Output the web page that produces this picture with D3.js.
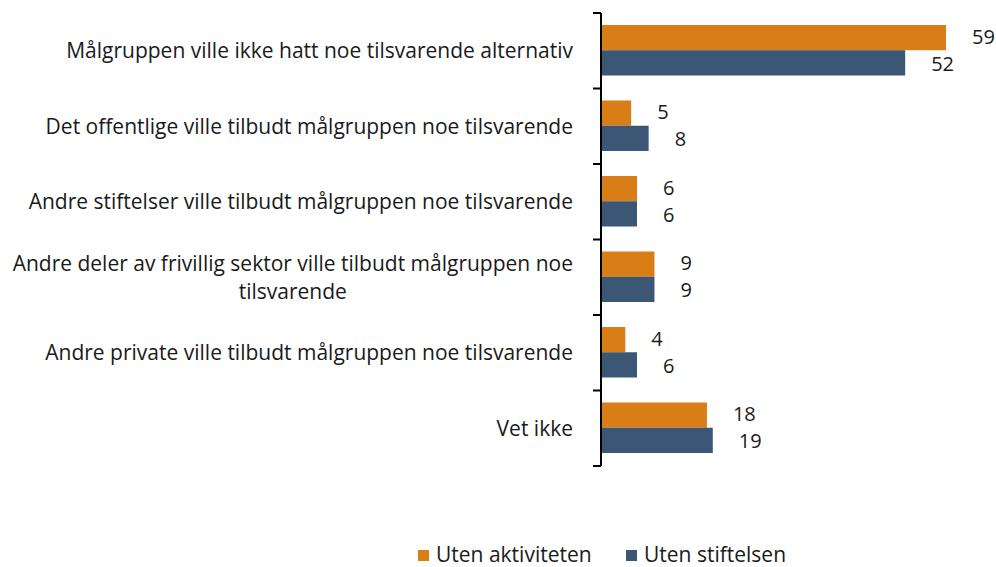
<!DOCTYPE html>
<html>
<head>
<meta charset="utf-8">
<script src="https://cdn.jsdelivr.net/npm/d3@7"></script>
<style>
  body { margin: 0; background: #fff; }
  svg { font-family: 'Open Sans', Lato, sans-serif; }
</style>
</head>
<body>
<svg width="996" height="567"></svg>
<script>
// Data
const categories = [
  'Målgruppen ville ikke hatt noe tilsvarende alternativ',
  'Det offentlige ville tilbudt målgruppen noe tilsvarende',
  'Andre stiftelser ville tilbudt målgruppen noe tilsvarende',
  'Andre deler av frivillig sektor ville tilbudt målgruppen noe tilsvarende',
  'Andre private ville tilbudt målgruppen noe tilsvarende',
  'Vet ikke',
]
const utenAktiviteten = [59, 5, 6, 9, 4, 18]
const utenStiftelsen = [52, 8, 6, 9, 6, 19]
const seriesNames = ['Uten aktiviteten', 'Uten stiftelsen']
const colors = ['#d97d17', '#3b5775']

const svg = d3.select('svg')
const axisX = 601
const labelRight = 573
const fontSize = 21

const y = d3.scaleBand().domain(categories).range([13, 466]).padding(0)
const ySub = d3.scaleBand().domain(seriesNames).range([12, y.bandwidth() - 13]).padding(0)
const x = d3.scaleLinear().domain([0, 59]).range([axisX + 1, 946])

const rows = categories.map((c, i) => ({ cat: c, values: [utenAktiviteten[i], utenStiftelsen[i]] }))

// bars
const groups = svg.selectAll('g.row')
  .data(rows)
  .join('g')
  .attr('class', 'row')
  .attr('transform', (d) => `translate(0,${y(d.cat)})`)

groups.selectAll('rect')
  .data((d) => d.values.map((v, k) => ({ v, k })))
  .join('rect')
  .attr('x', x(0))
  .attr('y', (d) => ySub(seriesNames[d.k]))
  .attr('width', (d) => x(d.v) - x(0))
  .attr('height', ySub.bandwidth())
  .attr('fill', (d) => colors[d.k])

// value labels (nudged apart a little so they don't collide)
groups.selectAll('text.val')
  .data((d) => d.values.map((v, k) => ({ v, k })))
  .join('text')
  .attr('class', 'val')
  .attr('x', (d) => x(d.v) + 26)
  .attr('y', (d) => ySub(seriesNames[d.k]) + ySub.bandwidth() / 2 + (d.k === 0 ? -1 : 1))
  .attr('dy', '0.35em')
  .attr('font-size', 20)
  .attr('fill', '#1a1a1a')
  .text((d) => d.v)

// axis line and ticks at band edges
svg.append('line')
  .attr('x1', axisX).attr('x2', axisX)
  .attr('y1', y.range()[0]).attr('y2', y.range()[1])
  .attr('stroke', '#000').attr('stroke-width', 2)

const edges = categories.map((c) => y(c)).concat([y.range()[1]])
svg.selectAll('line.tick')
  .data(edges)
  .join('line')
  .attr('class', 'tick')
  .attr('x1', axisX - 8).attr('x2', axisX)
  .attr('y1', (d) => d).attr('y2', (d) => d)
  .attr('stroke', '#000').attr('stroke-width', 2)

// category labels, wrapped to fit
const maxWidth = 570
const lineHeight = 28
const catLabels = svg.selectAll('text.cat')
  .data(categories)
  .join('text')
  .attr('class', 'cat')
  .attr('font-size', fontSize)
  .attr('fill', '#1a1a1a')
  .attr('text-anchor', 'middle')

catLabels.each(function (c) {
  const t = d3.select(this)
  const words = c.split(' ')
  const lines = []
  let line = []
  const probe = t.append('tspan')
  words.forEach((w) => {
    line.push(w)
    probe.text(line.join(' '))
    if (probe.node().getComputedTextLength() > maxWidth && line.length > 1) {
      line.pop()
      lines.push(line.join(' '))
      line = [w]
    }
  })
  lines.push(line.join(' '))
  // width of the widest line
  let blockW = 0
  lines.forEach((l) => {
    probe.text(l)
    blockW = Math.max(blockW, probe.node().getComputedTextLength())
  })
  probe.remove()
  const cx = labelRight - blockW / 2
  const cy = y(c) + y.bandwidth() / 2 - ((lines.length - 1) * lineHeight) / 2
  lines.forEach((l, i) => {
    t.append('tspan')
      .attr('x', cx)
      .attr('y', cy + i * lineHeight)
      .attr('dy', '0.35em')
      .text(l)
  })
})

// legend
const legendItems = [
  { name: seriesNames[0], color: colors[0], x: 418 },
  { name: seriesNames[1], color: colors[1], x: 626 },
]
const legend = svg.selectAll('g.legend')
  .data(legendItems)
  .join('g')
  .attr('class', 'legend')
  .attr('transform', (d) => `translate(${d.x},555)`)
legend.append('rect')
  .attr('x', 0).attr('y', -5)
  .attr('width', 11).attr('height', 11)
  .attr('fill', (d) => d.color)
legend.append('text')
  .attr('x', 18)
  .attr('dy', '0.35em')
  .attr('font-size', fontSize)
  .attr('fill', '#1a1a1a')
  .text((d) => d.name)
</script>
</body>
</html>
